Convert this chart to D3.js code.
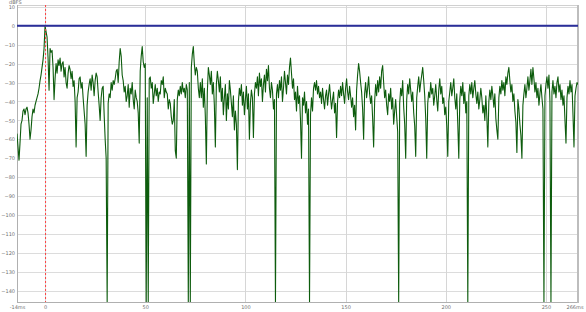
<!DOCTYPE html>
<html>
<head>
<meta charset="utf-8">
<script src="https://cdn.jsdelivr.net/npm/d3@7"></script>
<style>
  body { margin: 0; background: #fff; }
  svg { display: block; }
  .axis text, .unit { font-family: 'DejaVu Sans', sans-serif; font-size: 5px; fill: #707070; }
  .axis path { display: none; }
</style>
</head>
<body>
<div id="chart"></div>
<script>
// Time axis (ms): first sample and sample spacing
const sampleStart = -14;
const sampleStep = 0.5;

// Level in dBFS per sample
const levels = [
  -57, -64, -71, -62, -52, -50, -45, -44, -47, -44, -43, -46, -52, -60, -55, -48, -44, -46, -42, -40,
  -38, -36, -33, -29, -26, -22, -18, -12,
  0, -3, -6, -17, -34, -12, -14, -13, -22, -39, -28, -20, -25, -18, -21, -17, -24, -20, -19, -27,
  -22, -30, -33, -25, -21, -23, -28, -24, -32, -29, -40, -64, -38, -35, -28, -27, -33, -30, -38, -45,
  -52, -69, -42, -35, -31, -28, -34, -26, -30, -37, -29, -25, -27, -35, -42,
  -50, -38, -33, -32, -47, -60, -70, -146, -41, -36,
  -38, -30, -34, -29, -31, -28, -24, -23, -30, -19,
  -12, -16, -26, -29, -35, -32, -40, -37, -31, -43,
  -33, -36, -30, -39, -44, -34, -38, -40, -46, -62,
  -24, -16, -11, -19, -22, -20, -146, -38, -146, -28,
  -27, -33, -30, -41, -36, -31, -37, -33, -40, -35,
  -36, -29, -31, -27, -38, -33, -35, -36, -44, -39,
  -41, -48, -52, -50, -39, -66, -70, -39, -34, -37,
  -32, -36, -30, -35, -33, -38, -31, -34, -146, -30,
  -146, -22, -15, -11, -20, -26, -22, -24, -33, -38,
  -30, -38, -28, -43, -33, -48, -73, -35, -22, -26,
  -31, -24, -36, -30, -42, -64, -31, -24, -29, -35,
  -27, -40, -33, -47, -38, -31, -50, -36, -44, -29,
  -34, -41, -48, -37, -55, -45, -52, -76, -40, -33,
  -37, -31, -42, -35, -47, -39, -32, -44, -36, -60,
  -41, -34, -38, -59, -36, -30, -33, -27, -37, -25,
  -32, -28, -40, -31, -26, -35, -23, -29, -21, -33,
  -38, -30, -34, -44, -39, -146, -36, -31, -38, -29,
  -34, -27, -40, -33, -24, -30, -36, -26, -31, -22,
  -17, -25, -33, -28, -39, -35, -45, -32, -41, -37,
  -50, -70, -38, -42, -35, -46, -40, -52, -44, -146,
  -47, -38, -45, -33, -30, -34, -29, -36, -32, -38,
  -35, -41, -33, -39, -44, -37, -34, -42, -36, -31,
  -38, -44, -39, -35, -46, -41, -59, -40, -34, -38,
  -32, -37, -30, -36, -41, -33, -28, -35, -39, -32,
  -37, -43, -38, -48, -42, -55, -34, -26, -20, -24,
  -30, -35, -44, -60, -36, -30, -38, -33, -27, -36,
  -41, -37, -49, -64, -40, -31, -37, -29, -35, -27,
  -33, -24, -21, -30, -38, -34, -42, -47, -36, -40,
  -33, -44, -38, -52, -45, -39, -48, -56, -146, -41,
  -33, -37, -29, -43, -52, -70, -39, -31, -36, -28,
  -34, -40, -35, -46, -53, -69, -38, -32, -27, -35,
  -30, -26, -22, -29, -37, -49, -70, -41, -35, -38,
  -30, -36, -33, -42, -37, -31, -39, -45, -34, -28,
  -36, -32, -41, -38, -47, -43, -53, -69, -40, -35,
  -30, -37, -33, -28, -38, -44, -36, -52, -70, -39,
  -32, -37, -30, -41, -35, -46, -40, -146, -37, -31,
  -36, -30, -38, -33, -29, -36, -41, -35, -44, -39,
  -33, -38, -46, -42, -50, -37, -48, -64, -40, -34,
  -39, -32, -37, -43, -36, -49, -55, -60, -38, -32,
  -36, -29, -34, -30, -37, -27, -31, -25, -22, -29,
  -35, -31, -40, -36, -45, -51, -67, -39, -44, -52,
  -58, -70, -42, -36, -31, -38, -33, -27, -34, -29,
  -23, -31, -22, -28, -35, -30, -38, -33, -42, -36,
  -31, -38, -44, -146, -37, -31, -27, -33, -26, -40,
  -146, -35, -29, -36, -32, -38, -30, -27, -35, -31,
  -39, -34, -42, -37, -50, -62, -38, -32, -36, -29,
  -35, -31, -47, -64, -37, -33, -30, -31
];

const yTicks = [10, 0, -10, -20, -30, -40, -50, -60, -70, -80, -90, -100, -110, -120, -130, -140];
const xTicks = [0, 50, 100, 150, 200, 250];
const xEnds = [-14, 266];
const referenceLevel = 0;
const markerTime = 0;

const data = levels.map((v, i) => ({ t: sampleStart + i * sampleStep, v }));

const W = 586, H = 312;
const margin = { top: 5, right: 8, bottom: 10, left: 17 };
const width = W - margin.left - margin.right;
const height = H - margin.top - margin.bottom;

const x = d3.scaleLinear().domain([-14, 266]).range([0, width]);
const y = d3.scaleLinear().domain([-146, 11]).range([height, 0]);

const svg = d3.select('#chart')
  .append('svg')
  .attr('width', W)
  .attr('height', H)
  .append('g')
  .attr('transform', `translate(${margin.left}, ${margin.top})`);

svg.append('clipPath').attr('id', 'plot')
  .append('rect').attr('width', width).attr('height', height);

// grid
svg.append('g')
  .selectAll('line')
  .data(yTicks)
  .enter().append('line')
  .attr('x1', 0).attr('x2', width)
  .attr('y1', d => Math.round(y(d)) + 0.5).attr('y2', d => Math.round(y(d)) + 0.5)
  .attr('stroke', '#dcdcdc');

svg.append('g')
  .selectAll('line')
  .data(xTicks)
  .enter().append('line')
  .attr('x1', d => Math.round(x(d)) + 0.5).attr('x2', d => Math.round(x(d)) + 0.5)
  .attr('y1', 0).attr('y2', height)
  .attr('stroke', '#d6d6d6');

// frame
svg.append('line').attr('x1', 0).attr('x2', width).attr('y1', 0.5).attr('y2', 0.5).attr('stroke', '#d0d0d0');
svg.append('line').attr('x1', 0.5).attr('x2', 0.5).attr('y1', 0).attr('y2', height).attr('stroke', '#b0b0b0');
svg.append('line').attr('x1', 0).attr('x2', width).attr('y1', height + 0.5).attr('y2', height + 0.5).attr('stroke', '#b0b0b0');
svg.append('line').attr('x1', width).attr('x2', width).attr('y1', 0).attr('y2', height + 1).attr('stroke', '#bdbdbd').attr('stroke-width', 2);

// axes
svg.append('g')
  .attr('class', 'axis axis--y')
  .call(d3.axisLeft(y).tickValues(yTicks).tickSize(0).tickPadding(2));

const xAxis = svg.append('g')
  .attr('class', 'axis axis--x')
  .attr('transform', `translate(0, ${height})`)
  .call(d3.axisBottom(x).tickValues(xTicks.concat(xEnds)).tickSize(0).tickPadding(3)
    .tickFormat(d => xEnds.includes(d) ? d + 'ms' : d));

xAxis.selectAll('.tick')
  .filter(d => d === xEnds[1])
  .select('text')
  .attr('text-anchor', 'end')
  .attr('x', 5);

svg.selectAll('.axis text').attr('fill', null);

svg.append('text')
  .attr('class', 'unit')
  .attr('x', -8).attr('y', -1)
  .text('dBFS');

// response
const line = d3.line()
  .x(d => x(d.t))
  .y(d => y(d.v));

svg.append('path')
  .datum(data)
  .attr('clip-path', 'url(#plot)')
  .attr('fill', 'none')
  .attr('stroke', '#0d5c0d')
  .attr('stroke-width', 1.1)
  .attr('stroke-linejoin', 'round')
  .attr('d', line);

svg.append('line')
  .attr('x1', x(markerTime) + 0.5).attr('x2', x(markerTime) + 0.5)
  .attr('y1', 0).attr('y2', height)
  .attr('stroke', '#ff4040')
  .attr('stroke-width', 1)
  .attr('stroke-dasharray', '2,2');

svg.append('line')
  .attr('x1', 0).attr('x2', width)
  .attr('y1', y(referenceLevel)).attr('y2', y(referenceLevel))
  .attr('stroke', '#2a2e9a')
  .attr('stroke-width', 2);
</script>
</body>
</html>
